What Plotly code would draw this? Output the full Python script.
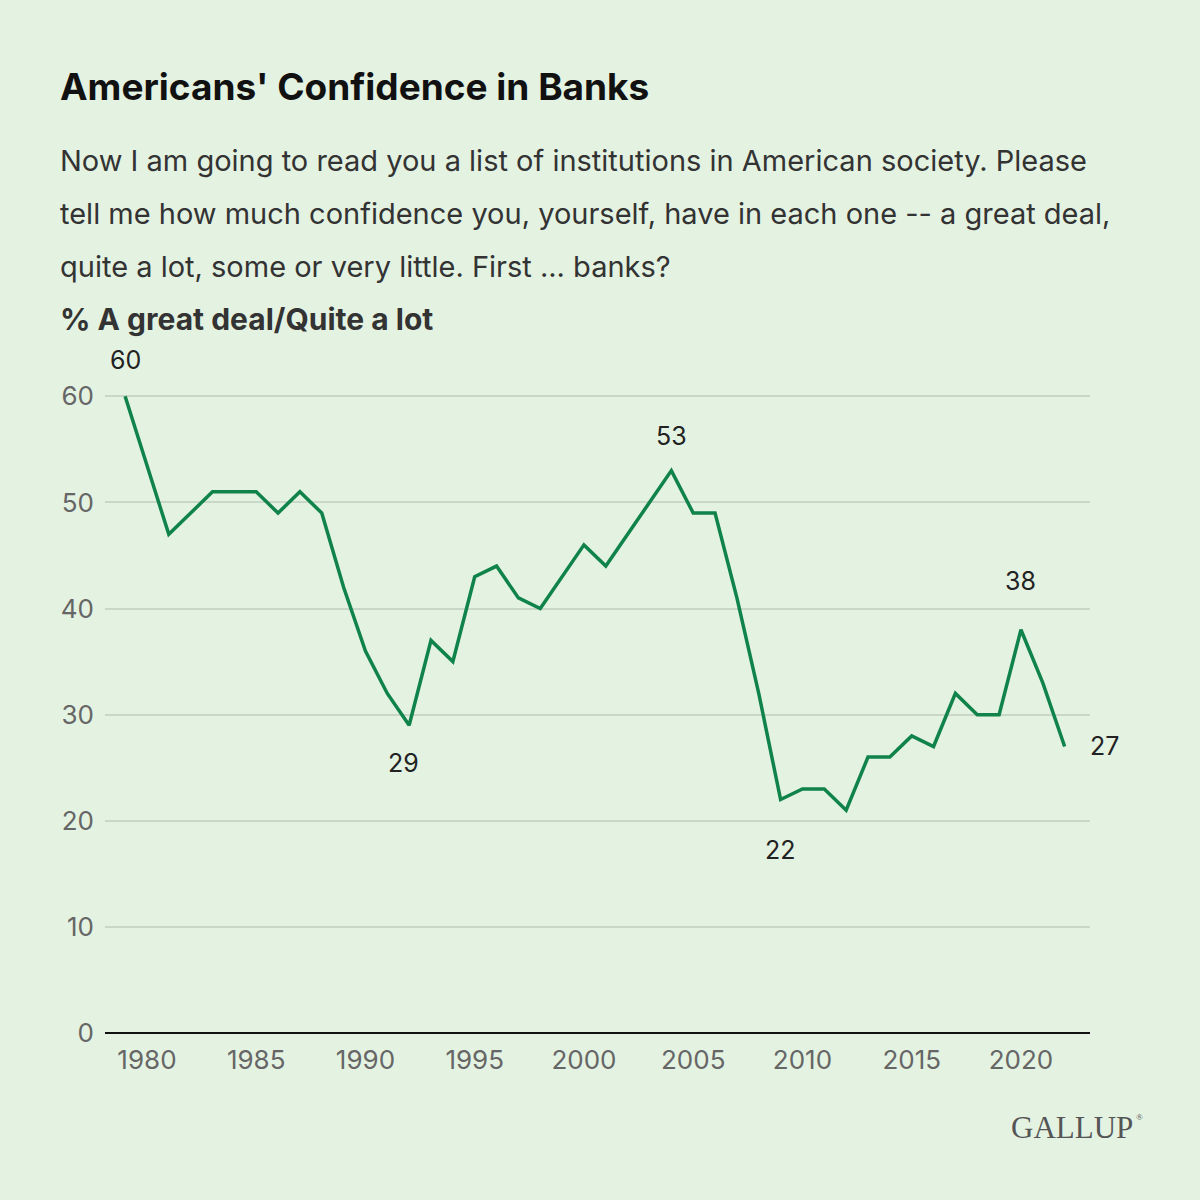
import plotly.graph_objects as go

years = [1979, 1981, 1983, 1984, 1985, 1986, 1987, 1988, 1989, 1990, 1991, 1992, 1993,
         1994, 1995, 1996, 1997, 1998, 1999, 2000, 2001, 2002, 2003, 2004, 2005, 2006,
         2007, 2008, 2009, 2010, 2011, 2012, 2013, 2014, 2015, 2016, 2017, 2018, 2019,
         2020, 2021, 2022]
values = [60, 47, 51, 51, 51, 49, 51, 49, 42, 36, 32, 29, 37,
          35, 43, 44, 41, 40, 43, 46, 44, 47, 50, 53, 49, 49,
          41, 32, 22, 23, 23, 21, 26, 26, 28, 27, 32, 30, 30,
          38, 33, 27]
x_ticks = [1980, 1985, 1990, 1995, 2000, 2005, 2010, 2015, 2020]
y_ticks = [0, 10, 20, 30, 40, 50, 60]

# labelled points: (year, value, xshift, yshift)
labelled = [(1979, 60, 0, 36), (1992, 29, -6, -38), (2004, 53, 0, 35),
            (2009, 22, 0, -50), (2020, 38, 0, 49), (2022, 27, 40, 0)]

BG = "#E4F2E2"
GREEN = "#10834A"
FONT = "Inter, Roboto, 'Noto Sans', sans-serif"
TOP = 391

fig = go.Figure()
fig.add_trace(go.Scatter(x=years, y=values, mode="lines",
                         line=dict(color=GREEN, width=3.5),
                         cliponaxis=False, hoverinfo="x+y"))

for yr, v, xs, ys in labelled:
    fig.add_annotation(x=yr, y=v, text=str(v), showarrow=False,
                       xshift=xs, yshift=ys,
                       font=dict(family=FONT, size=25, color="#222222"))

fig.update_layout(
    width=1200, height=1200,
    paper_bgcolor=BG, plot_bgcolor=BG,
    margin=dict(l=105, r=110, t=TOP, b=167),
    showlegend=False,
    xaxis=dict(range=[1978.08, 2023.16], tickvals=x_ticks, showgrid=False,
               zeroline=False, showline=False, ticks="", ticklabelstandoff=9,
               tickfont=dict(family=FONT, size=26, color="#666666")),
    yaxis=dict(range=[0, 60.5], tickvals=y_ticks, showgrid=True,
               gridcolor="#C8D7C7", gridwidth=1.5, zeroline=True,
               zerolinecolor="#111111", zerolinewidth=2, showline=False,
               ticks="", ticklabelstandoff=10,
               tickfont=dict(family=FONT, size=26, color="#666666")),
)

XL = (58 - 105) / (1200 - 105 - 110)
# Title
fig.add_annotation(xref="paper", yref="paper", x=XL, y=1.0, xanchor="left", yanchor="middle",
                   text="<b>Americans' Confidence in Banks</b>", showarrow=False,
                   yshift=TOP - 86, font=dict(family=FONT, size=37, color="#111111"))
sub_lines = ["Now I am going to read you a list of institutions in American society. Please",
             "tell me how much confidence you, yourself, have in each one -- a great deal,",
             "quite a lot, some or very little. First ... banks?"]
for i, line in enumerate(sub_lines):
    fig.add_annotation(xref="paper", yref="paper", x=XL, y=1.0, xanchor="left", yanchor="middle",
                       text=line, showarrow=False, yshift=TOP - (160 + 53 * i),
                       font=dict(family=FONT, size=29, color="#333333"))
fig.add_annotation(xref="paper", yref="paper", x=XL, y=1.0, xanchor="left", yanchor="middle",
                   text="<b>% A great deal/Quite a lot</b>", showarrow=False, yshift=TOP - 319,
                   font=dict(family=FONT, size=30, color="#333333"))
# Logo
fig.add_annotation(xref="paper", yref="paper", x=1.0, y=0.0, xanchor="right", yanchor="middle",
                   text="GALLUP", showarrow=False,
                   xshift=45, yshift=-(1127 - 1033),
                   font=dict(family="'Liberation Serif', 'DejaVu Serif', serif", size=31, color="#555555"))
fig.add_annotation(xref="paper", yref="paper", x=1.0, y=0.0, xanchor="left", yanchor="middle",
                   text="®", showarrow=False,
                   xshift=44, yshift=-(1117 - 1033),
                   font=dict(family="'Liberation Serif', 'DejaVu Serif', serif", size=9, color="#555555"))

fig.write_html("out.html", config={"displayModeBar": False},
               post_script="document.body.style.margin='0';document.body.style.background='#E4F2E2';")
